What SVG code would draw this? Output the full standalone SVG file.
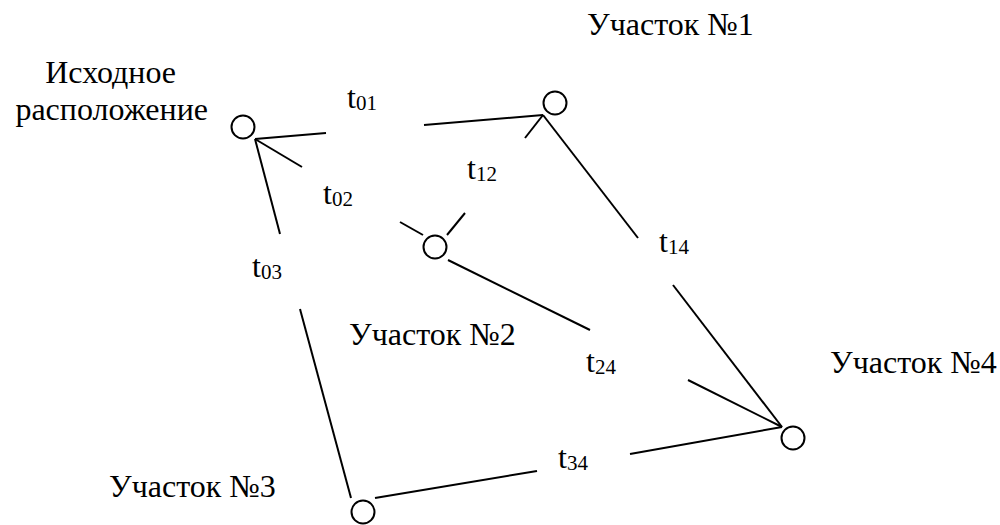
<svg xmlns="http://www.w3.org/2000/svg" width="1000" height="525" viewBox="0 0 1000 525">
  <style>
    .node { fill: none; stroke: #000; stroke-width: 2; }
    .edge { stroke: #000; stroke-width: 2; fill: none; stroke-linecap: butt; }
    .lbl, .tl { font-family: 'Liberation Serif', Tinos, 'Times New Roman', 'DejaVu Serif', serif; font-size: 32px; fill: #000; }
    .sub { font-size: 21px; }
  </style>

  <!-- connectors: each edge is split around its weight label -->
  <g id="connectors">
    <g id="e01"><line class="edge" x1="255" y1="139" x2="326" y2="133"/><line class="edge" x1="424" y1="125" x2="543" y2="115"/></g>
    <g id="e02"><line class="edge" x1="255" y1="139" x2="302" y2="167"/><line class="edge" x1="400" y1="222" x2="423" y2="235"/></g>
    <g id="e03"><line class="edge" x1="255" y1="139" x2="280" y2="234"/><line class="edge" x1="300" y1="309" x2="351" y2="498"/></g>
    <g id="e12"><line class="edge" x1="543" y1="115" x2="525" y2="138"/><line class="edge" x1="465" y1="213" x2="447" y2="235"/></g>
    <g id="e14"><line class="edge" x1="543" y1="115" x2="638" y2="238"/><line class="edge" x1="673" y1="285" x2="782" y2="427"/></g>
    <g id="e24"><line class="edge" x1="448" y1="260" x2="590" y2="330"/><line class="edge" x1="688" y1="380" x2="782" y2="427"/></g>
    <g id="e34"><line class="edge" x1="375" y1="498" x2="537" y2="471"/><line class="edge" x1="630" y1="454" x2="782" y2="427"/></g>
    <text class="tl" x="347" y="108">t<tspan class="sub" dy="2">01</tspan></text>
    <text class="tl" x="467" y="179">t<tspan class="sub" dy="2">12</tspan></text>
    <text class="tl" x="323" y="204">t<tspan class="sub" dy="2">02</tspan></text>
    <text class="tl" x="252" y="277">t<tspan class="sub" dy="2">03</tspan></text>
    <text class="tl" x="659" y="252">t<tspan class="sub" dy="2">14</tspan></text>
    <text class="tl" x="586" y="372">t<tspan class="sub" dy="2">24</tspan></text>
    <text class="tl" x="558" y="468">t<tspan class="sub" dy="2">34</tspan></text>
  </g>

  <!-- nodes -->
  <g id="start">
    <circle class="node" cx="243" cy="127" r="11.5"/>
    <text class="lbl" x="176" y="83" text-anchor="end">Исходное</text>
    <text class="lbl" x="208" y="120" text-anchor="end">расположение</text>
  </g>
  <g id="site1">
    <circle class="node" cx="555" cy="103" r="11.5"/>
    <text class="lbl" x="587" y="35">Участок №1</text>
  </g>
  <g id="site2">
    <circle class="node" cx="435" cy="247" r="11.5"/>
    <text class="lbl" x="349" y="345">Участок №2</text>
  </g>
  <g id="site3">
    <circle class="node" cx="363" cy="512" r="11.5"/>
    <text class="lbl" x="109" y="497">Участок №3</text>
  </g>
  <g id="site4">
    <circle class="node" cx="793" cy="438" r="11.5"/>
    <text class="lbl" x="830" y="373">Участок №4</text>
  </g>
</svg>
